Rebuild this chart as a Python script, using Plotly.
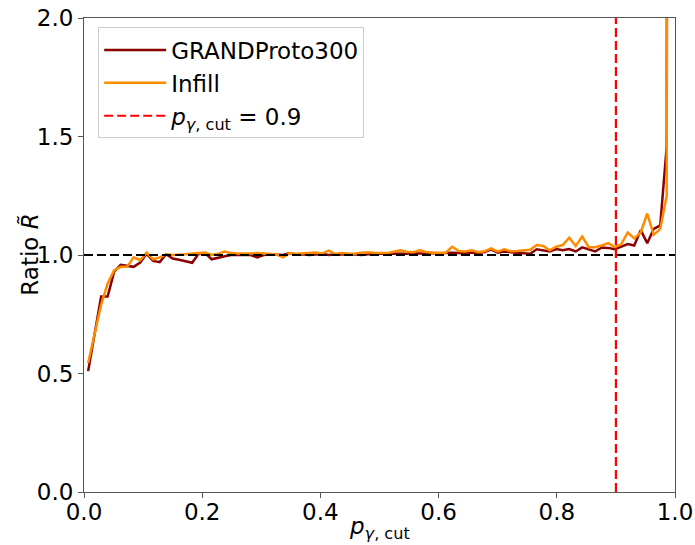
import plotly.graph_objects as go

# p_gamma,cut grid (bin positions)
p_cut = [round(0.007 + 0.011 * i, 3) for i in range(91)]

ratio_grandproto300 = [
    0.51, 0.67, 0.825, 0.825, 0.93, 0.958, 0.953, 0.95, 0.968, 1.005,
    0.975, 0.97, 1.003, 0.985, 0.98, 0.975, 0.967, 1.005, 1.008, 0.982,
    0.99, 0.995, 1.0, 1.0, 1.0, 1.0, 0.99, 1.0, 1.002, 1.0,
    1.0, 1.008, 1.002, 1.003, 1.0, 1.002, 1.004, 1.0, 1.003, 1.002,
    1.004, 1.003, 1.0, 1.004, 1.005, 1.006, 1.005, 1.007, 1.006, 1.005,
    1.007, 1.006, 1.005, 1.008, 1.006, 1.008, 1.01, 1.008, 1.006, 1.01,
    1.008, 1.012, 1.024, 1.01, 1.015, 1.012, 1.01, 1.008, 1.005, 1.024,
    1.02, 1.015, 1.025, 1.02, 1.025, 1.015, 1.032, 1.022, 1.015, 1.032,
    1.03, 1.024, 1.035, 1.046, 1.04, 1.105, 1.05, 1.11, 1.125, 1.46,
    30.0,
]

ratio_infill = [
    0.544, 0.67, 0.79, 0.88, 0.935, 0.95, 0.95, 0.99, 0.978, 1.01,
    0.982, 0.99, 1.003, 1.0, 1.0, 1.003, 1.006, 1.008, 1.01, 1.0,
    1.005, 1.015, 1.008, 1.006, 1.005, 1.006, 1.008, 1.005, 1.004, 1.002,
    0.99, 1.008, 1.005, 1.007, 1.008, 1.01, 1.006, 1.018, 1.005, 1.008,
    1.006, 1.005, 1.01, 1.012, 1.01, 1.01, 1.008, 1.014, 1.02, 1.014,
    1.012, 1.02, 1.013, 1.01, 1.01, 1.01, 1.035, 1.017, 1.015, 1.02,
    1.012, 1.016, 1.028, 1.014, 1.024, 1.016, 1.017, 1.02, 1.022, 1.042,
    1.038, 1.02, 1.035, 1.042, 1.073, 1.038, 1.078, 1.033, 1.033, 1.04,
    1.05, 1.033, 1.045, 1.095, 1.07, 1.095, 1.175, 1.085, 1.11, 1.25,
    40.0,
]

p_cut_value = 0.9
reference_level = 1.0
x_ticks = [0.0, 0.2, 0.4, 0.6, 0.8, 1.0]
y_ticks = [0.0, 0.5, 1.0, 1.5, 2.0]

FONT = "DejaVu Sans"
AXCOL = "#555555"
FS = 23

fig = go.Figure()
fig.add_trace(go.Scatter(
    x=p_cut, y=ratio_grandproto300, mode="lines", name="GRANDProto300",
    line=dict(color="#8B0000", width=2.5),
))
fig.add_trace(go.Scatter(
    x=p_cut, y=ratio_infill, mode="lines", name="Infill",
    line=dict(color="#FF8C00", width=2.5),
))
fig.add_trace(go.Scatter(
    x=[0, 1], y=[reference_level, reference_level], mode="lines",
    showlegend=False, line=dict(color="black", width=2.2, dash="9px,4px"),
))
fig.add_trace(go.Scatter(
    x=[p_cut_value, p_cut_value], y=[0, 2], mode="lines",
    name="<i>p</i><sub><i>γ</i>, cut</sub> = 0.9",
    line=dict(color="red", width=2.2, dash="9px,4px"),
))

fig.update_layout(
    width=695, height=545,
    margin=dict(l=84, r=20, t=18, b=53),
    paper_bgcolor="white", plot_bgcolor="white",
    font=dict(family=FONT, size=FS, color="black"),
    showlegend=True,
    legend=dict(
        x=0.024, y=0.98, xanchor="left", yanchor="top",
        bgcolor="rgba(255,255,255,0.85)", bordercolor="#cccccc", borderwidth=1,
        font=dict(family=FONT, size=FS, color="black"),
        itemwidth=62,
    ),
    annotations=[
        dict(text="<i>p</i><sub><i>γ</i>, cut</sub>", xref="paper", yref="paper",
             x=0.5, y=-0.076, xanchor="center", yanchor="middle", showarrow=False,
             font=dict(family=FONT, size=FS)),
        dict(text="Ratio <i>R̃</i>", xref="paper", yref="paper",
             x=-0.092, y=0.5, xanchor="center", yanchor="middle", showarrow=False,
             textangle=-90, font=dict(family=FONT, size=FS)),
    ],
)
fig.update_xaxes(
    range=[0, 1], tickvals=x_ticks, ticktext=[f"{v:.1f}" for v in x_ticks],
    showgrid=False, zeroline=False, showline=True, mirror=True,
    linecolor=AXCOL, linewidth=1, ticks="outside", ticklen=5, tickcolor=AXCOL,
    tickfont=dict(family=FONT, size=FS), automargin=False, ticklabelstandoff=-6,
)
fig.update_yaxes(
    range=[0, 2], tickvals=y_ticks, ticktext=[f"{v:.1f}" for v in y_ticks],
    showgrid=False, zeroline=False, showline=True, mirror=True,
    linecolor=AXCOL, linewidth=1, ticks="outside", ticklen=5, tickcolor=AXCOL,
    tickfont=dict(family=FONT, size=FS), automargin=False,
)

fig.write_html("out.html")
